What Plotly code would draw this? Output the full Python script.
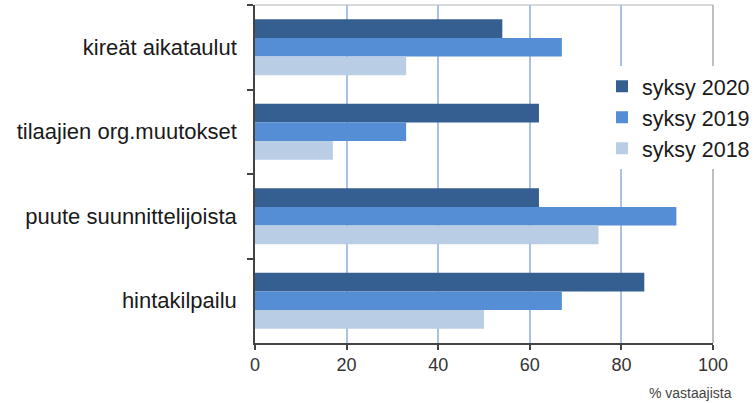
import plotly.graph_objects as go

categories = ["kireät aikataulut", "tilaajien org.muutokset", "puute suunnittelijoista", "hintakilpailu"]
series_names = ["syksy 2020", "syksy 2019", "syksy 2018"]
values_2020 = [54, 62, 62, 85]
values_2019 = [67, 33, 92, 67]
values_2018 = [33, 17, 75, 50]
x_ticks = [0, 20, 40, 60, 80, 100]
x_title = "% vastaajista"

colors = ["#355f91", "#558ed5", "#b9cde5"]
series_values = [values_2020, values_2019, values_2018]

fig = go.Figure()
for name, vals, col in zip(series_names, series_values, colors):
    fig.add_trace(go.Bar(
        y=categories, x=vals, name=name, orientation="h",
        marker=dict(color=col, line=dict(width=0)),
    ))

font_family = "Liberation Sans, Arial, sans-serif"
fig.update_layout(
    width=756, height=403,
    margin=dict(l=255, r=43, t=5, b=60, autoexpand=False),
    paper_bgcolor="white", plot_bgcolor="white",
    barmode="group", bargap=0.34, bargroupgap=0,
    font=dict(family=font_family, color="#1a1a1a"),
    showlegend=True,
    legend=dict(
        x=(602 - 255) / (756 - 255 - 43), xanchor="left",
        y=0.82, yanchor="top",
        bgcolor="white", borderwidth=0,
        font=dict(size=21.5, color="#1a1a1a", family=font_family),
        itemwidth=30, tracegroupgap=0,
    ),
)

fig.update_xaxes(
    range=[0, 100], tickvals=x_ticks, ticktext=[str(t) for t in x_ticks],
    showgrid=True, gridcolor="#a9c1e2", gridwidth=1.5,
    zeroline=False, showline=True, linecolor="#444444", linewidth=1.5,
    ticks="outside", ticklen=5, tickcolor="#444444", tickwidth=1.5,
    tickfont=dict(size=18, color="#333333"),
    fixedrange=True,
)
fig.update_yaxes(
    autorange="reversed", type="category",
    showgrid=False, zeroline=False, showline=True, linecolor="#444444", linewidth=1.5,
    ticks="outside", tickson="boundaries", ticklen=6, tickcolor="#444444", tickwidth=1.5,
    tickfont=dict(size=22, color="#1a1a1a"), ticklabelstandoff=12,
)

# frame: top and right borders
fig.add_shape(type="line", xref="paper", yref="paper", x0=0, x1=1, y0=1, y1=1,
              line=dict(color="#cccccc", width=1.5), layer="below")
fig.add_shape(type="line", xref="paper", yref="paper", x0=1, x1=1, y0=0, y1=1,
              line=dict(color="#aaaaaa", width=1.5), layer="below")

fig.add_annotation(text=x_title, xref="paper", yref="paper", x=1.045, y=-0.147,
                   xanchor="right", yanchor="middle", showarrow=False,
                   font=dict(size=14, color="#444444", family=font_family))

fig.write_html("out.html")
